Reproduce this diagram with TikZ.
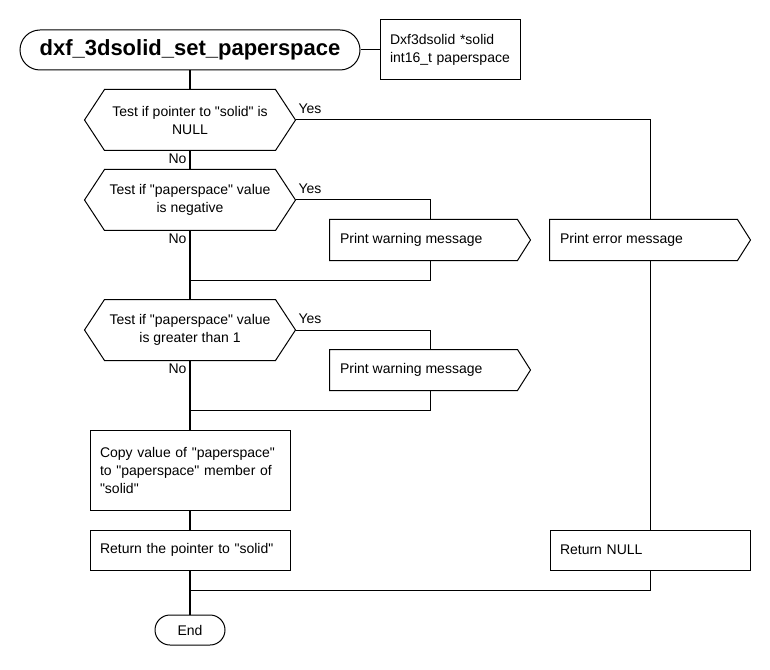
\documentclass[tikz,border=0pt]{standalone}
\usepackage{fontspec}
\newfontfamily\lib{Liberation Sans}
\begin{document}
\begin{tikzpicture}[x=0.75pt,y=-0.75pt,
  font=\lib\fontsize{10.5}{13.5}\selectfont,
  every node/.style={line width=0.75pt},
  txtbox/.style={draw, rectangle, inner ysep=0pt, inner xsep=7.5pt, minimum width=150pt, minimum height=30pt, text width=135pt, align=left},
  dec/.style={rectangle, minimum width=157.5pt, minimum height=45pt, inner sep=0pt, align=center},
  sig/.style={rectangle, minimum width=150pt, minimum height=30pt, inner sep=0pt},
  outline/.style={line width=0.75pt, line join=miter},
  term/.style={draw, rectangle, inner sep=0pt},
  lbl/.style={inner sep=0pt},
  trunk/.style={line width=2.2pt},
  thin/.style={line width=0.75pt}]
\useasboundingbox (0,0) rectangle (770,670);

\node[term, rounded corners=15pt, minimum width=255pt, minimum height=30pt, font=\lib\fontsize{16.5}{19}\selectfont\bfseries] (title) at (190,50) {dxf\_3dsolid\_set\_paperspace};
\node[draw, rectangle, inner ysep=0pt, inner xsep=7.5pt, minimum width=105pt, minimum height=45pt, text width=90pt, align=left] (par) at (450,50) {Dxf3dsolid *solid\\int16\_t paperspace};

\node[dec] (d1) at (190,120) {Test if pointer to "solid" is\\NULL};
\node[dec] (d2) at (190,200) {Test if "paperspace" value\\is negative};
\node[dec] (d3) at (190,330) {Test if "paperspace" value\\is greater than 1};
\foreach \d in {d1,d2,d3}{
  \draw[outline] (\d.west) -- ([xshift=15pt]\d.north west) -- ([xshift=-15pt]\d.north east) -- (\d.east) -- ([xshift=-15pt]\d.south east) -- ([xshift=15pt]\d.south west) -- cycle;
}

\node[sig] (w1) at (430,240) {};
\node[lbl, anchor=west] (w1t) at ([xshift=7.5pt]w1.west) {Print warning message};
\node[sig] (w2) at (430,370) {};
\node[lbl, anchor=west] (w2t) at ([xshift=7.5pt]w2.west) {Print warning message};
\node[sig] (err) at (650,240) {};
\node[lbl, anchor=west] (errt) at ([xshift=7.5pt]err.west) {Print error message};
\foreach \s in {w1,w2,err}{
  \draw[outline] (\s.north west) -- ([xshift=-9.75pt]\s.north east) -- (\s.east) -- ([xshift=-9.75pt]\s.south east) -- (\s.south west) -- cycle;
}

\node[txtbox, minimum height=60pt] (copy) at (190,470) {Copy value of "paperspace"\\to "paperspace" member of\\"solid"};
\node[txtbox] (ret) at (190,550) {Return the pointer to "solid"};
\node[txtbox] (rn) at (650,550) {Return NULL};
\node[term, rounded corners=11.25pt, minimum width=52.5pt, minimum height=22.5pt] (fin) at (190,630) {End};

\node[lbl, anchor=west] (y1) at (298,109) {Yes};
\node[lbl, anchor=west] (y2) at (298,189) {Yes};
\node[lbl, anchor=west] (y3) at (298,319) {Yes};
\node[lbl, anchor=east] (n1) at (187,159) {No};
\node[lbl, anchor=east] (n2) at (187,239) {No};
\node[lbl, anchor=east] (n3) at (187,369) {No};

\coordinate (j1) at (190,280);
\coordinate (j2) at (190,410);
\coordinate (j3) at (190,590);

\draw[thin] (title.east) -- (par.west);
\draw[thin] (d1.east) -| (err.north);
\draw[thin] (err.south) -- (rn.north);
\draw[thin] (rn.south) |- (j3);
\draw[thin] (d2.east) -| (w1.north);
\draw[thin] (w1.south) |- (j1);
\draw[thin] (d3.east) -| (w2.north);
\draw[thin] (w2.south) |- (j2);

\draw[trunk] (title.south) -- (d1.north);
\draw[trunk] (d1.south) -- (d2.north);
\draw[trunk] (d2.south) -- (d3.north);
\draw[trunk] (d3.south) -- (copy.north);
\draw[trunk] (copy.south) -- (ret.north);
\draw[trunk] (ret.south) -- (fin.north);
\end{tikzpicture}
\end{document}
